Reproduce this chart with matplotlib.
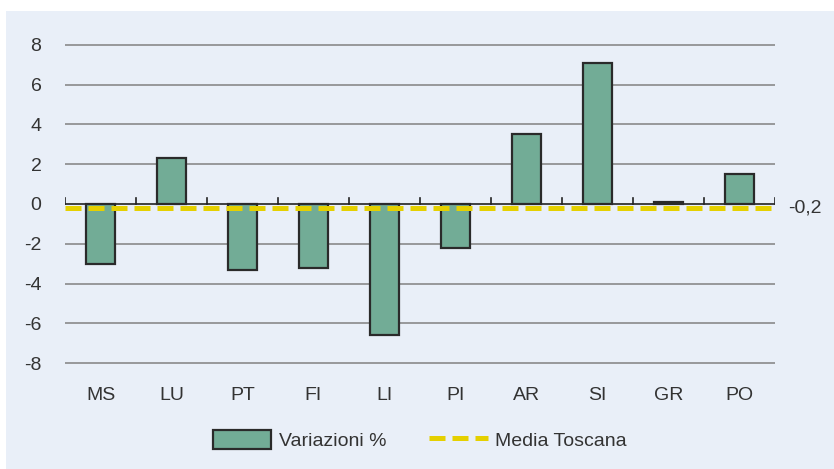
import matplotlib
matplotlib.use("Agg")
import matplotlib.pyplot as plt
from matplotlib import font_manager as fm
from matplotlib.patches import Rectangle
from matplotlib.lines import Line2D

categories = ["MS", "LU", "PT", "FI", "LI", "PI", "AR", "SI", "GR", "PO"]
values = [-3.0, 2.3, -3.3, -3.2, -6.6, -2.2, 3.5, 7.1, 0.1, 1.5]
media = -0.2
media_label = "-0,2"
yticks = [-8, -6, -4, -2, 0, 2, 4, 6, 8]

names = {f.name for f in fm.fontManager.ttflist}
fam = "Liberation Sans Narrow" if "Liberation Sans Narrow" in names else "Liberation Sans"
plt.rcParams["font.family"] = [fam, "DejaVu Sans"]

bg = "#E9EFF8"
bar_c = "#72AC96"
yel = "#E5D000"
txt = "#333333"

fig = plt.figure(figsize=(8.34, 4.69), dpi=100)
fig.patch.set_facecolor("white")
fig.add_artist(Rectangle((6/834, 0), 1, 1 - 11/469, transform=fig.transFigure,
                         facecolor=bg, edgecolor="none", zorder=-10))

ax = fig.add_axes([65/834, 1 - 373/469, 710/834, (373 - 35)/469])
ax.set_facecolor("none")
x = list(range(len(categories)))
ax.set_xlim(-0.5, len(categories) - 0.5)
ax.set_ylim(-8.5, 8.5)
for t in yticks:
    if t != 0:
        ax.axhline(t, color="#8a8a8a", lw=1.2, zorder=1)
ax.bar(x, values, width=0.41, color=bar_c, edgecolor="#2a2a2a", linewidth=1.6, zorder=3,
       label="Variazioni %")
ax.axhline(0, color="#222222", lw=1.2, zorder=2)
for b in [i - 0.5 for i in range(len(categories) + 1)]:
    ax.plot([b, b], [0, 0.3], color="#222222", lw=1.2, zorder=2)
ax.axhline(media, color=yel, lw=3.6, dashes=(3.2, 1.4), zorder=4, label="Media Toscana")
ax.text(len(categories) - 0.5 + 0.18, media, media_label, va="center", ha="left",
        fontsize=14, color=txt)

ax.set_yticks(yticks)
ax.set_yticklabels([str(t) for t in yticks], fontsize=14, color=txt)
ax.set_xticks(x)
ax.set_xticklabels(categories, fontsize=14, color=txt)
ax.tick_params(axis="both", length=0, pad=10)
ax.tick_params(axis="y", pad=17)
for s in ax.spines.values():
    s.set_visible(False)

handles = [Rectangle((0, 0), 1, 1, facecolor=bar_c, edgecolor="#2a2a2a", linewidth=1.6),
           Line2D([0], [0], color=yel, lw=3.6, dashes=(3.2, 1.4))]
fig.legend(handles, ["Variazioni %", "Media Toscana"], loc="center",
           bbox_to_anchor=(420/834, 1 - 440/469), ncol=2, frameon=False,
           fontsize=14, handlelength=3.0, handleheight=1.1, columnspacing=2.2,
           handletextpad=0.4, labelcolor=txt)

fig.savefig("out.png", dpi=100, facecolor="white")
